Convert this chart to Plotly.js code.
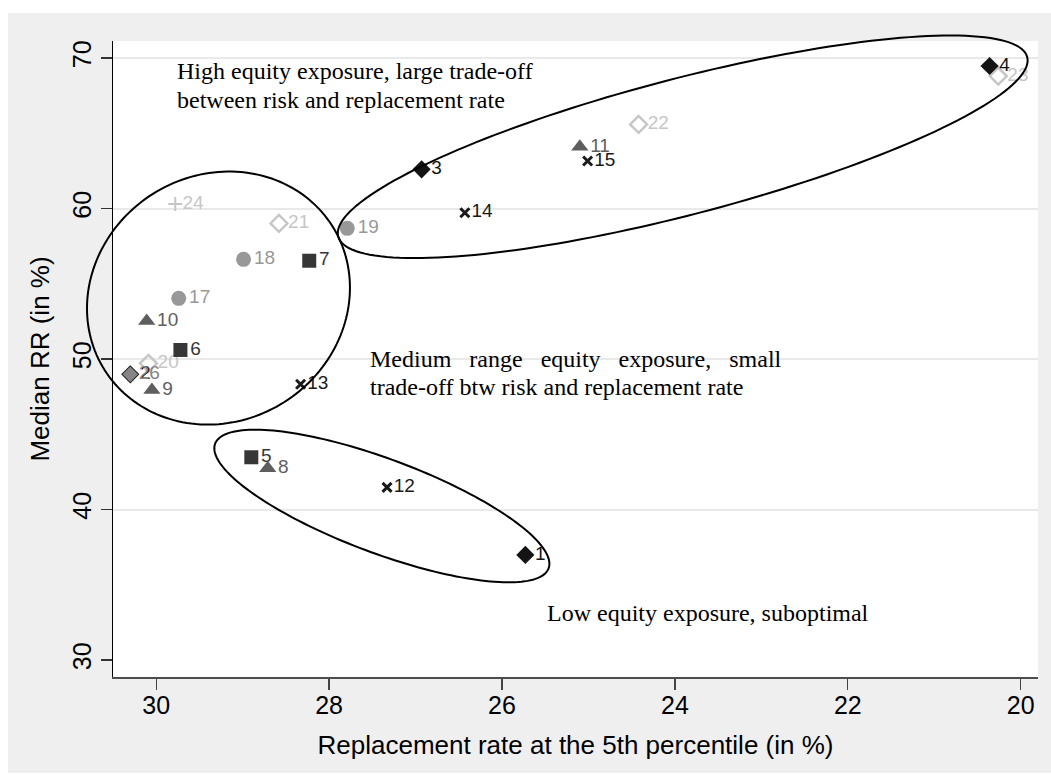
<!DOCTYPE html>
<html><head><meta charset="utf-8">
<script src="https://cdn.plot.ly/plotly-3.0.1.min.js"></script>
<style>
html,body{margin:0;padding:0;background:#ffffff;width:1051px;height:776px;overflow:hidden}
#chart{position:absolute;left:8px;top:13px;width:1043px;height:760px}
</style></head>
<body><div id="chart"></div>
<script>
// ---- data ----
const labelsA = ['1','2','3','4'];
const xA = [25.73, 30.30, 26.93, 20.36];
const yA = [36.98, 48.98, 62.60, 69.47];

const labelsB = ['5','6','7'];
const xB = [28.90, 29.72, 28.23];
const yB = [43.47, 50.60, 56.53];

const labelsC = ['8','9','10','11'];
const xC = [28.71, 30.05, 30.11, 25.10];
const yC = [42.74, 47.94, 52.52, 64.10];

const labelsD = ['12','13','14','15'];
const xD = [27.33, 28.33, 26.43, 25.01];
const yD = [41.47, 48.32, 59.72, 63.16];

const labelsE = ['17','18','19'];
const xE = [29.74, 28.99, 27.79];
const yE = [54.03, 56.62, 58.68];

const labelsF = ['20','21','22','23'];
const xF = [30.09, 28.58, 24.42, 20.26];
const yF = [49.71, 59.01, 65.59, 68.80];

const labelsG = ['24'];
const xG = [29.78];
const yG = [60.30];

const labelsH = ['26'];
const xH = [30.30];
const yH = [48.98];

const xTickVals = [30, 28, 26, 24, 22, 20];
const yTickVals = [30, 40, 50, 60, 70];
const yGridVals = [40, 50, 60, 70];

const xTitle = 'Replacement rate at the 5th percentile (in %)';
const yTitle = 'Median RR (in %)';

const NB = '\u00a0';
const noteLines = [
  'High equity exposure, large trade-off',
  'between risk and replacement rate',
  ['Medium','range','equity','exposure,','small'].join(NB+NB+NB),
  'trade-off btw risk and replacement rate',
  'Low equity exposure, suboptimal'
];
const noteX = [29.78, 29.78, 27.55, 27.55, 25.50];
const noteY = [69.14, 67.20, 50.00, 48.11, 33.15];

// ellipse outlines (center in data units)
const ellCX = [23.91, 29.28, 27.39];
const ellCY = [64.10, 54.05, 40.23];

// ---- layout geometry / styles ----
const W = 1043, H = 760;
const M = {l:105, r:13, t:28, b:96};
const xRange = [30.5, 19.8];
const yRange = [28.87, 71.13];
const plotW = W - M.l - M.r, plotH = H - M.t - M.b;
const ellGeom = [
  {a:356, b:68, ang:-14.6},
  {a:134.7, b:123.1, ang:-32.4},
  {a:178, b:47, ang:20.5}
];

function toPaperX(x){ return (x - xRange[0])/(xRange[1]-xRange[0]); }
function toPaperY(y){ return (y - yRange[0])/(yRange[1]-yRange[0]); }

const shapes = ellCX.map((cx, i) => {
  const g = ellGeom[i];
  const th = g.ang*Math.PI/180;
  const px = toPaperX(cx), py = toPaperY(ellCY[i]);
  let d = '';
  const N = 180;
  for (let k = 0; k <= N; k++) {
    const f = 2*Math.PI*k/N;
    const dx = g.a*Math.cos(f)*Math.cos(th) - g.b*Math.sin(f)*Math.sin(th);
    const dy = g.a*Math.cos(f)*Math.sin(th) + g.b*Math.sin(f)*Math.cos(th);
    const X = px + dx/plotW, Y = py - dy/plotH;
    d += (k === 0 ? 'M ' : ' L ') + X.toFixed(5) + ' ' + Y.toFixed(5);
  }
  d += ' Z';
  return {type:'path', xref:'paper', yref:'paper', path:d,
          line:{color:'#000000', width:2}, fillcolor:'rgba(0,0,0,0)', layer:'above'};
});

const SANS = 'Liberation Sans, Arial, sans-serif';
const SERIF = 'Liberation Serif, Times New Roman, serif';

function series(x, y, labels, symbol, size, color, lineW){
  return {
    type:'scatter', mode:'markers+text', x:x, y:y, text:labels,
    textposition:'middle right', cliponaxis:false,
    textfont:{family:SANS, size:19, color:color},
    marker:{symbol:symbol, size:size, color:color,
            line:{color:color, width:lineW || 0}},
    hoverinfo:'skip', showlegend:false
  };
}

const traces = [
  series(xF, yF, labelsF, 'diamond-open', 13, '#c6c6c6', 2.5),
  series(xG, yG, labelsG, 'cross-thin-open', 10, '#c6c6c6', 2),
  series(xE, yE, labelsE, 'circle', 15, '#989898', 0),
  series(xB, yB, labelsB, 'square', 14, '#363636', 0),
  series(xC, yC, labelsC, 'triangle-up', 15, '#5e5e5e', 0),
  series(xD, yD, labelsD, 'x-thin-open', 9, '#1a1a1a', 3),
  series(xA, yA, labelsA, 'diamond', 14, '#141414', 0),
  series(xH, yH, labelsH, 'diamond', 12, '#858585', 0)
];

const annotations = noteLines.map((t, i) => ({
  x:noteX[i], y:noteY[i], xref:'x', yref:'y', text:t, showarrow:false,
  xanchor:'left', yanchor:'middle', align:'left',
  font:{family:SERIF, size:24, color:'#000000'}
}));

const layout = {
  width:W, height:H, margin:M,
  paper_bgcolor:'#efefef', plot_bgcolor:'#ffffff',
  showlegend:false,
  xaxis:{
    range:xRange, tickvals:xTickVals, ticktext:xTickVals.map(String),
    showgrid:false, zeroline:false,
    showline:true, linecolor:'#4d4d4d', linewidth:2,
    ticks:'outside', ticklen:11, tickwidth:1.3, tickcolor:'#444444',
    ticklabelstandoff:-6,
    tickfont:{family:SANS, size:25, color:'#000000'},
    title:{text:xTitle, font:{family:SANS, size:26, color:'#000000'}, standoff:18}
  },
  yaxis:{
    range:yRange, tickvals:yTickVals, ticktext:yTickVals.map(String),
    showgrid:false, zeroline:false, tickangle:-90,
    showline:true, linecolor:'#000000', linewidth:1.5,
    ticks:'outside', ticklen:11, tickwidth:1.3, tickcolor:'#333333',
    tickfont:{family:SANS, size:25, color:'#000000'},
    title:{text:yTitle, font:{family:SANS, size:26, color:'#000000'}, standoff:10}
  },
  yaxis2:{
    range:yRange, overlaying:'y', tickvals:yGridVals, showticklabels:false,
    ticks:'', showgrid:true, gridcolor:'#e9e9e9', gridwidth:2,
    zeroline:false, showline:false, layer:'below traces'
  },
  shapes:shapes,
  annotations:annotations
};

// empty trace so the grid-only axis is drawn
traces.unshift({type:'scatter', x:[], y:[], yaxis:'y2', hoverinfo:'skip', showlegend:false});

Plotly.newPlot('chart', traces, layout, {displayModeBar:false, staticPlot:true});
</script></body></html>
